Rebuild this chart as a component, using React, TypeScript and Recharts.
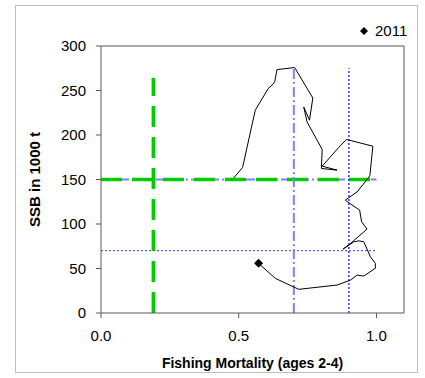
import { ScatterChart, Scatter, XAxis, YAxis, ReferenceLine } from 'recharts';

// stock trajectory (first year -> 2011)
const fishingMortality = [
  0.482, 0.514, 0.56, 0.607, 0.626, 0.631, 0.639, 0.703, 0.769, 0.757,
  0.736, 0.748, 0.803, 0.8, 0.857, 0.803, 0.863, 0.891, 0.987, 0.976,
  0.93, 0.887, 0.903, 0.939, 0.946, 0.966, 0.906, 0.879, 0.918, 0.936,
  0.954, 0.978, 0.996, 0.996, 0.954, 0.93, 0.906, 0.857, 0.718, 0.633,
  0.572,
];
const ssbValues = [
  151.9, 163.5, 227.8, 252.2, 257.6, 260.4, 273.5, 275.8, 241.6, 216.6,
  231.5, 214.7, 183.7, 162.4, 160.5, 165, 186, 195, 187.4, 154.1,
  136.1, 126.8, 123.1, 115.6, 102.5, 94.3, 78.2, 71.8, 80, 81.1,
  80, 63.2, 55.8, 50.2, 41.5, 42.6, 37, 31.4, 26.6, 38.9,
  55.8,
];
const lastYear = '2011';

// reference points
const fmsy = 0.19;
const fmsyTop = 264;
const fpa = 0.7;
const flim = 0.9;
const fLineTop = 275;
const bpa = 150;
const blim = 70;
const bLineEnd = 1.0;

const xTicks = [0, 0.5, 1.0];
const yTicks = [0, 50, 100, 150, 200, 250, 300];

const trajectory = fishingMortality.map((f, i) => ({ f, ssb: ssbValues[i] }));
const lastPoint = [trajectory[trajectory.length - 1]];

const axisColor = '#595959';
const green = '#00CC00';
const dashDotBlue = '#8080FF';
const dotBlue = '#3333FF';

const Diamond = (props: any) => {
  const { cx, cy } = props;
  const r = 4.5;
  return (
    <polygon
      points={`${cx},${cy - r} ${cx + r},${cy} ${cx},${cy + r} ${cx - r},${cy}`}
      fill="#000"
    />
  );
};

export default function App() {
  return (
    <div
      style={{
        position: 'absolute',
        left: 0,
        top: 0,
        width: 425,
        height: 378,
        background: '#fff',
        fontFamily: '"Liberation Sans", Arial, sans-serif',
      }}
    >
      <div
        style={{
          position: 'absolute',
          left: 15,
          top: 5,
          width: 403,
          height: 368,
          border: '1px solid #bfbfbf',
          boxSizing: 'border-box',
        }}
      />
      <ScatterChart
        width={425}
        height={378}
        margin={{ top: 46, right: 21, bottom: 15, left: 1 }}
        style={{ position: 'absolute', left: 0, top: 0 }}
      >
        <XAxis
          type="number"
          dataKey="f"
          domain={[0, 1.1]}
          ticks={xTicks}
          tickFormatter={(v: number) => v.toFixed(1)}
          allowDataOverflow
          height={50}
          tickSize={5}
          tickMargin={12}
          stroke={axisColor}
          tick={{ fill: '#000', fontSize: 15 }}
          label={{
            value: 'Fishing Mortality (ages 2-4)',
            position: 'center',
            dy: 25,
            style: { fontWeight: 'bold', fontSize: 14, fill: '#000' },
          }}
        />
        <YAxis
          type="number"
          dataKey="ssb"
          domain={[0, 300]}
          ticks={yTicks}
          allowDataOverflow
          width={100}
          tickSize={5}
          tickMargin={10}
          stroke={axisColor}
          tick={{ fill: '#000', fontSize: 15 }}
          label={{
            value: 'SSB in 1000 t',
            angle: -90,
            position: 'center',
            dx: -16,
            style: { fontWeight: 'bold', fontSize: 15, fill: '#000' },
          }}
        />

        {/* plot frame */}
        <ReferenceLine y={300} stroke={axisColor} strokeWidth={1} />
        <ReferenceLine x={1.1} stroke={axisColor} strokeWidth={1} />

        {/* reference points */}
        <ReferenceLine
          segment={[{ x: 0, y: bpa }, { x: bLineEnd, y: bpa }]}
          stroke={dashDotBlue}
          strokeWidth={2}
          strokeDasharray="10 3 2 3"
        />
        <ReferenceLine
          segment={[{ x: 0, y: bpa }, { x: bLineEnd, y: bpa }]}
          stroke={green}
          strokeWidth={3.5}
          strokeDasharray="21 10"
        />
        <ReferenceLine
          segment={[{ x: 0, y: blim }, { x: bLineEnd, y: blim }]}
          stroke={dotBlue}
          strokeWidth={1}
          strokeDasharray="2 2"
        />
        <ReferenceLine
          segment={[{ x: fpa, y: 0 }, { x: fpa, y: fLineTop }]}
          stroke={dashDotBlue}
          strokeWidth={2}
          strokeDasharray="10 3 2 3"
        />
        <ReferenceLine
          segment={[{ x: flim, y: 0 }, { x: flim, y: fLineTop }]}
          stroke={dotBlue}
          strokeWidth={1.5}
          strokeDasharray="2 2"
        />
        <ReferenceLine
          segment={[{ x: fmsy, y: 0 }, { x: fmsy, y: fmsyTop }]}
          stroke={green}
          strokeWidth={3.5}
          strokeDasharray="21 10"
        />

        <Scatter
          data={trajectory}
          line={{ stroke: '#000', strokeWidth: 1 }}
          lineType="joint"
          shape={() => <g />}
          legendType="none"
          isAnimationActive={false}
        />
        <Scatter data={lastPoint} shape={Diamond} isAnimationActive={false} />
      </ScatterChart>

      {/* legend */}
      <div
        style={{
          position: 'absolute',
          left: 359,
          top: 22,
          display: 'flex',
          alignItems: 'center',
          fontSize: 15,
          color: '#000',
        }}
      >
        <svg width={10} height={10} style={{ marginRight: 6 }}>
          <polygon points="5,1 9,5 5,9 1,5" fill="#000" />
        </svg>
        <span>{lastYear}</span>
      </div>
    </div>
  );
}
